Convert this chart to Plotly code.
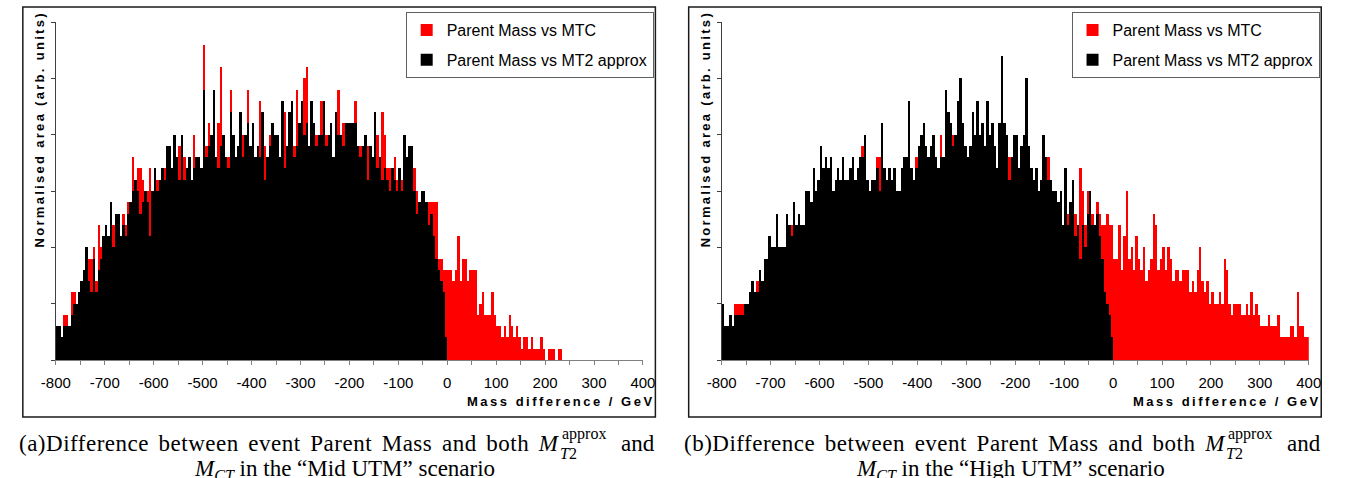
import plotly.graph_objects as go

# ---------------- data (counts per 5 GeV bin, starting at -800 GeV) ----------------
BIN_WIDTH = 5
X_START = -800

# Panel (a) "Mid UTM": Parent Mass vs MTC (red)  -800 .. 235 GeV
mid_mtc = [
    3, 1, 2, 4, 4, 3, 6, 6, 5, 6,
    7, 8, 7, 9, 9, 10, 7, 12, 10, 9,
    12, 11, 14, 12, 12, 13, 11, 13, 12, 14,
    14, 18, 15, 17, 17, 16, 15, 15, 17, 15,
    14, 16, 15, 16, 17, 17, 17, 16, 16, 17,
    19, 17, 18, 17, 16, 16, 20, 17, 18, 16,
    28, 19, 21, 17, 19, 18, 21, 26, 19, 18,
    18, 24, 19, 18, 19, 17, 20, 18, 24, 19,
    19, 18, 17, 23, 18, 19, 17, 20, 17, 18,
    19, 17, 22, 22, 18, 20, 21, 19, 24, 20,
    19, 25, 26, 18, 20, 19, 20, 18, 23, 19,
    20, 18, 19, 17, 18, 24, 19, 21, 18, 20,
    17, 19, 23, 17, 19, 18, 16, 19, 18, 17,
    18, 20, 17, 22, 20, 17, 17, 16, 18, 16,
    15, 16, 18, 17, 18, 16, 17, 15, 14, 13,
    13, 13, 14, 14, 14, 14, 9, 9, 8, 8,
    8, 8, 7, 8, 11, 7, 9, 9, 7, 8,
    8, 8, 4, 5, 6, 4, 4, 4, 6, 4,
    3, 3, 2, 3, 2, 4, 3, 2, 3, 2,
    1, 2, 2, 1, 2, 1, 1, 1, 2, 1,
    0, 1, 1, 1, 0, 1, 1,
]

# Panel (a) "Mid UTM": Parent Mass vs MT2 approx (black)  -800 .. 0 GeV
mid_mt2 = [
    3, 3, 2, 3, 3, 3, 4, 5, 5, 6,
    7, 8, 10, 7, 6, 9, 6, 8, 9, 11,
    12, 11, 14, 10, 13, 13, 11, 12, 11, 13,
    14, 15, 16, 15, 13, 14, 15, 14, 11, 15,
    17, 15, 16, 17, 16, 19, 19, 17, 20, 18,
    16, 20, 16, 17, 18, 16, 17, 18, 18, 17,
    24, 18, 19, 20, 24, 18, 17, 19, 20, 18,
    17, 22, 20, 18, 19, 22, 18, 20, 21, 19,
    21, 18, 19, 18, 22, 16, 18, 19, 21, 20,
    20, 18, 23, 17, 19, 22, 23, 18, 19, 21,
    23, 20, 21, 19, 23, 21, 19, 20, 20, 23,
    19, 20, 21, 18, 22, 20, 20, 19, 21, 21,
    21, 21, 21, 19, 18, 19, 20, 16, 19, 18,
    22, 17, 18, 16, 17, 16, 15, 17, 16, 15,
    17, 15, 20, 18, 19, 19, 15, 13, 14, 15,
    15, 14, 12, 13, 11, 9, 8, 7, 6, 2,
]

# Panel (b) "High UTM": Parent Mass vs MTC (red)  -800 .. 405 GeV
high_mtc = [
    3, 3, 2, 3, 3, 5, 5, 5, 5, 4,
    5, 5, 6, 6, 7, 7, 6, 7, 8, 8,
    9, 10, 10, 10, 9, 10, 11, 10, 12, 12,
    11, 12, 11, 11, 14, 14, 13, 15, 13, 14,
    15, 14, 15, 14, 16, 13, 14, 15, 15, 16,
    15, 14, 15, 16, 15, 16, 17, 19, 18, 15,
    14, 15, 16, 18, 18, 17, 16, 15, 16, 14,
    16, 14, 15, 16, 17, 16, 18, 16, 15, 18,
    17, 18, 18, 17, 16, 17, 18, 18, 15, 20,
    17, 19, 20, 19, 20, 19, 18, 19, 18, 17,
    17, 18, 19, 18, 19, 17, 18, 17, 19, 18,
    18, 17, 16, 18, 19, 17, 18, 18, 16, 17,
    16, 15, 17, 16, 18, 16, 15, 14, 15, 14,
    14, 15, 16, 18, 14, 13, 14, 13, 14, 12,
    14, 13, 13, 15, 13, 12, 17, 15, 12, 15,
    14, 13, 12, 14, 13, 12, 12, 13, 12, 12,
    9, 9, 12, 8, 11, 15, 9, 10, 8, 11,
    9, 8, 10, 7, 8, 9, 13, 12, 8, 9,
    10, 8, 10, 9, 7, 8, 8, 7, 8, 8,
    8, 6, 7, 6, 8, 10, 7, 6, 7, 5,
    6, 5, 5, 6, 5, 9, 8, 5, 4, 5,
    5, 5, 4, 4, 5, 4, 6, 4, 5, 4,
    3, 3, 3, 4, 3, 3, 3, 4, 2, 2,
    2, 2, 3, 3, 2, 6, 3, 3, 2, 2,
    2,
]

# Panel (b) "High UTM": Parent Mass vs MT2 approx (black)  -800 .. 0 GeV
high_mt2 = [
    5, 3, 3, 4, 3, 4, 4, 4, 4, 5,
    5, 6, 7, 6, 6, 8, 7, 9, 9, 11,
    10, 10, 13, 10, 10, 10, 13, 12, 11, 14,
    12, 13, 12, 12, 15, 15, 14, 17, 15, 16,
    19, 17, 18, 17, 18, 15, 16, 17, 16, 18,
    16, 16, 17, 18, 16, 17, 18, 18, 20, 16,
    15, 16, 16, 17, 15, 21, 17, 16, 17, 16,
    17, 15, 15, 17, 18, 18, 23, 17, 16, 17,
    19, 20, 21, 19, 18, 19, 20, 18, 17, 18,
    18, 24, 22, 21, 19, 20, 23, 25, 21, 19,
    18, 19, 22, 20, 23, 20, 21, 19, 23, 20,
    21, 19, 17, 21, 27, 21, 20, 16, 18, 20,
    20, 17, 19, 20, 25, 19, 17, 16, 17, 15,
    16, 20, 18, 16, 16, 15, 15, 14, 15, 12,
    17, 12, 14, 16, 11, 12, 9, 12, 10, 13,
    15, 12, 12, 13, 11, 9, 6, 5, 4, 2,
]

x_ticks = list(range(-800, 401, 100))
x_tick_labels = [str(v) for v in x_ticks]
x_minor_ticks = list(range(-750, 400, 100))
y_ticks = [0, 5, 10, 15, 20, 25, 30]
series_names = ["Parent Mass vs MTC", "Parent Mass vs MT2 approx"]
series_colors = ["#FF0000", "#000000"]

# ---------------- layout helpers ----------------
W, H = 1345, 478


def px(x):
    return x / W


def py(y):
    return 1 - y / H


def edges(vals):
    return [X_START + BIN_WIDTH * i for i in range(len(vals))]


SANS = "Liberation Sans"
SERIF = "Liberation Serif"

fig = go.Figure()

panels = [
    ("x", "y", "legend", mid_mtc, mid_mt2),
    ("x2", "y2", "legend2", high_mtc, high_mt2),
]
for k, (xa, ya, lg, red_vals, black_vals) in enumerate(panels):
    for name, color, vals in zip(series_names, series_colors, [red_vals, black_vals]):
        fig.add_trace(go.Bar(
            x=edges(vals), y=vals, width=BIN_WIDTH, offset=0,
            name=name, legendgroup=f"{name}{k}", legend=lg,
            marker=dict(color=color, line=dict(width=0)),
            xaxis=xa, yaxis=ya, hoverinfo="skip",
        ))

xaxis_common = dict(
    range=[-800, 400], tickmode="array", tickvals=x_ticks, ticktext=x_tick_labels,
    ticks="outside", ticklen=4, tickcolor="#808080", tickwidth=1,
    showline=True, linecolor="#808080", linewidth=1,
    showgrid=False, zeroline=False, ticklabelstandoff=5,
    tickfont=dict(family=SANS, size=15, color="#000000"),
    minor=dict(tickmode="array", tickvals=x_minor_ticks, ticks="outside",
               ticklen=4, tickcolor="#808080", showgrid=False),
    fixedrange=True,
)
yaxis_common = dict(
    range=[0, 30], tickmode="array", tickvals=y_ticks, showticklabels=False,
    ticks="outside", ticklen=4, tickcolor="#404040", tickwidth=1,
    showline=True, linecolor="#404040", linewidth=1,
    showgrid=False, zeroline=False, domain=[py(360), py(22)], fixedrange=True,
)

legend_common = dict(
    xanchor="left", yanchor="top", bgcolor="#FFFFFF", bordercolor="#606060",
    borderwidth=1, font=dict(family=SANS, size=16, color="#000000"),
    traceorder="grouped", tracegroupgap=6, itemwidth=30,
)

annotations = []
shapes = []
captions = [("(a)", "Mid UTM"), ("(b)", "High UTM")]
for k in range(2):
    off = 680 * k
    shapes.append(dict(type="rect", xref="paper", yref="paper",
                       x0=px(8 + off), x1=px(654 + off), y0=py(417), y1=py(7),
                       line=dict(color="#1a1a1a", width=1.5), layer="below"))
    annotations.append(dict(
        text='<span style="letter-spacing:2.3px">Normalised area (arb. units)</span>',
        x=px(25 + off), y=py(129), xref="paper", yref="paper", textangle=-90,
        xanchor="center", yanchor="middle", showarrow=False,
        font=dict(family=SANS, size=13, color="#000000", weight="bold")))
    annotations.append(dict(
        text='<span style="letter-spacing:2.5px">Mass difference / GeV</span>',
        x=px(656 + off), y=py(401), xref="paper", yref="paper",
        xanchor="right", yanchor="middle", showarrow=False,
        font=dict(family=SANS, size=13, color="#000000", weight="bold")))
    tag, scen = captions[k]
    cap_font = dict(family=SERIF, size=23, color="#000000")
    annotations.append(dict(
        text=(f'<span style="word-spacing:3.4px;letter-spacing:0.5px">{tag}Difference '
              f'between event Parent Mass and both </span><i>M</i>'),
        x=px(559 + off), y=py(443), xref="paper", yref="paper",
        xanchor="right", yanchor="middle", showarrow=False, font=cap_font))
    annotations.append(dict(
        text="approx", x=px(557 + off), y=py(434), xref="paper", yref="paper",
        xanchor="left", yanchor="middle", showarrow=False,
        font=dict(family=SERIF, size=16, color="#000000")))
    annotations.append(dict(
        text="<i>T</i>2", x=px(555 + off), y=py(453), xref="paper", yref="paper",
        xanchor="left", yanchor="middle", showarrow=False,
        font=dict(family=SERIF, size=16, color="#000000")))
    annotations.append(dict(
        text="and", x=px(656 + off), y=py(443), xref="paper", yref="paper",
        xanchor="right", yanchor="middle", showarrow=False, font=cap_font))
    annotations.append(dict(
        text=f"<i>M</i><sub><i>CT</i></sub> in the \u201c{scen}\u201d scenario",
        x=px(337 + off), y=py(470), xref="paper", yref="paper",
        xanchor="center", yanchor="middle", showarrow=False, font=cap_font))

fig.update_layout(
    width=W, height=H, margin=dict(l=0, r=0, t=0, b=0),
    paper_bgcolor="#FFFFFF", plot_bgcolor="#FFFFFF",
    barmode="overlay", bargap=0, showlegend=True,
    xaxis=dict(domain=[px(41.7), px(641.3)], anchor="y", **xaxis_common),
    xaxis2=dict(domain=[px(721.7), px(1321.3)], anchor="y2", **xaxis_common),
    yaxis=dict(anchor="x", **yaxis_common),
    yaxis2=dict(anchor="x2", **yaxis_common),
    legend=dict(x=px(399), y=py(12), **legend_common),
    legend2=dict(x=px(1079), y=py(12), **legend_common),
    annotations=annotations, shapes=shapes,
)

fig.write_html(
    "out.html",
    config={"displayModeBar": False},
    post_script="document.body.style.margin='0px';document.body.style.padding='0px';",
)
